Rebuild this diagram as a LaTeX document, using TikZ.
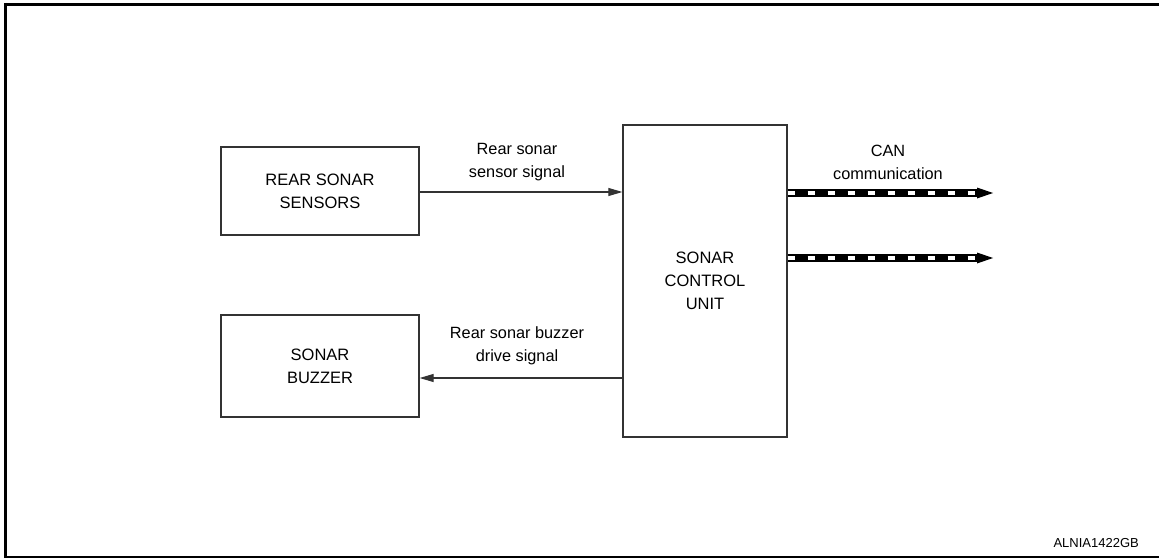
\documentclass[tikz,border=0pt]{standalone}
\usepackage{fontspec}
\setmainfont{Liberation Sans}
\usetikzlibrary{arrows.meta,calc}
\definecolor{ln}{HTML}{333333}
\begin{document}
\begin{tikzpicture}[x=1pt,y=-1pt,
  boxst/.style={draw=ln,line width=1.3pt,rectangle,inner sep=0pt,align=center,font=\fontsize{16.5}{23}\selectfont},
  lbl/.style={align=center,inner sep=0pt,font=\fontsize{16.3}{23}\selectfont},
  sig/.style={draw=ln,line width=1.1pt,-{Triangle[length=14pt,width=8pt]}},
  canline/.style={line width=8pt,black},
  candash/.style={line width=4.5pt,white,dash pattern=on 7pt off 13pt}]
\useasboundingbox (0,0) rectangle (1159,559);
% frame
\draw[line width=3pt] (4,4.5) -- (1159,4.5);
\draw[line width=3pt] (5,3) -- (5,557);
\draw[line width=1.2pt] (4,557) -- (1159,557);
% boxes
\node[boxst,minimum width=198pt,minimum height=88pt] (rss) at (320,191) {REAR SONAR\\SENSORS};
\node[boxst,minimum width=198pt,minimum height=102pt] (buz) at (320,366) {SONAR\\BUZZER};
\node[boxst,minimum width=164pt,minimum height=312pt] (scu) at (705,281) {SONAR\\CONTROL\\UNIT};
% signal arrows
\coordinate (sy) at (0,192);
\coordinate (by) at (0,378);
\draw[sig] (rss.east |- sy) -- (scu.west |- sy);
\draw[sig] (scu.west |- by) -- (buz.east |- by);
\node[lbl] (l1) at (517,162) {Rear sonar\\sensor signal};
\node[lbl] (l2) at (517,346) {Rear sonar buzzer\\drive signal};
% CAN lines
\coordinate (c1) at (977,193);
\coordinate (c2) at (977,258);
\coordinate (t1) at (993,193);
\coordinate (t2) at (993,258);
\foreach \c/\t in {c1/t1,c2/t2}{
  \draw[canline] (scu.east |- \c) -- (\c);
  \draw[candash] (scu.east |- \c) -- (\c);
  \fill ($(\c)+(0,-5.5)$) -- (\t) -- ($(\c)+(0,5.5)$) -- cycle;
}
\node[lbl] (l3) at (888,162) {CAN\\communication};
\node[font=\fontsize{13}{14}\selectfont,anchor=base east,inner sep=0pt] (id) at (1139,547) {ALNIA1422GB};
\end{tikzpicture}
\end{document}
